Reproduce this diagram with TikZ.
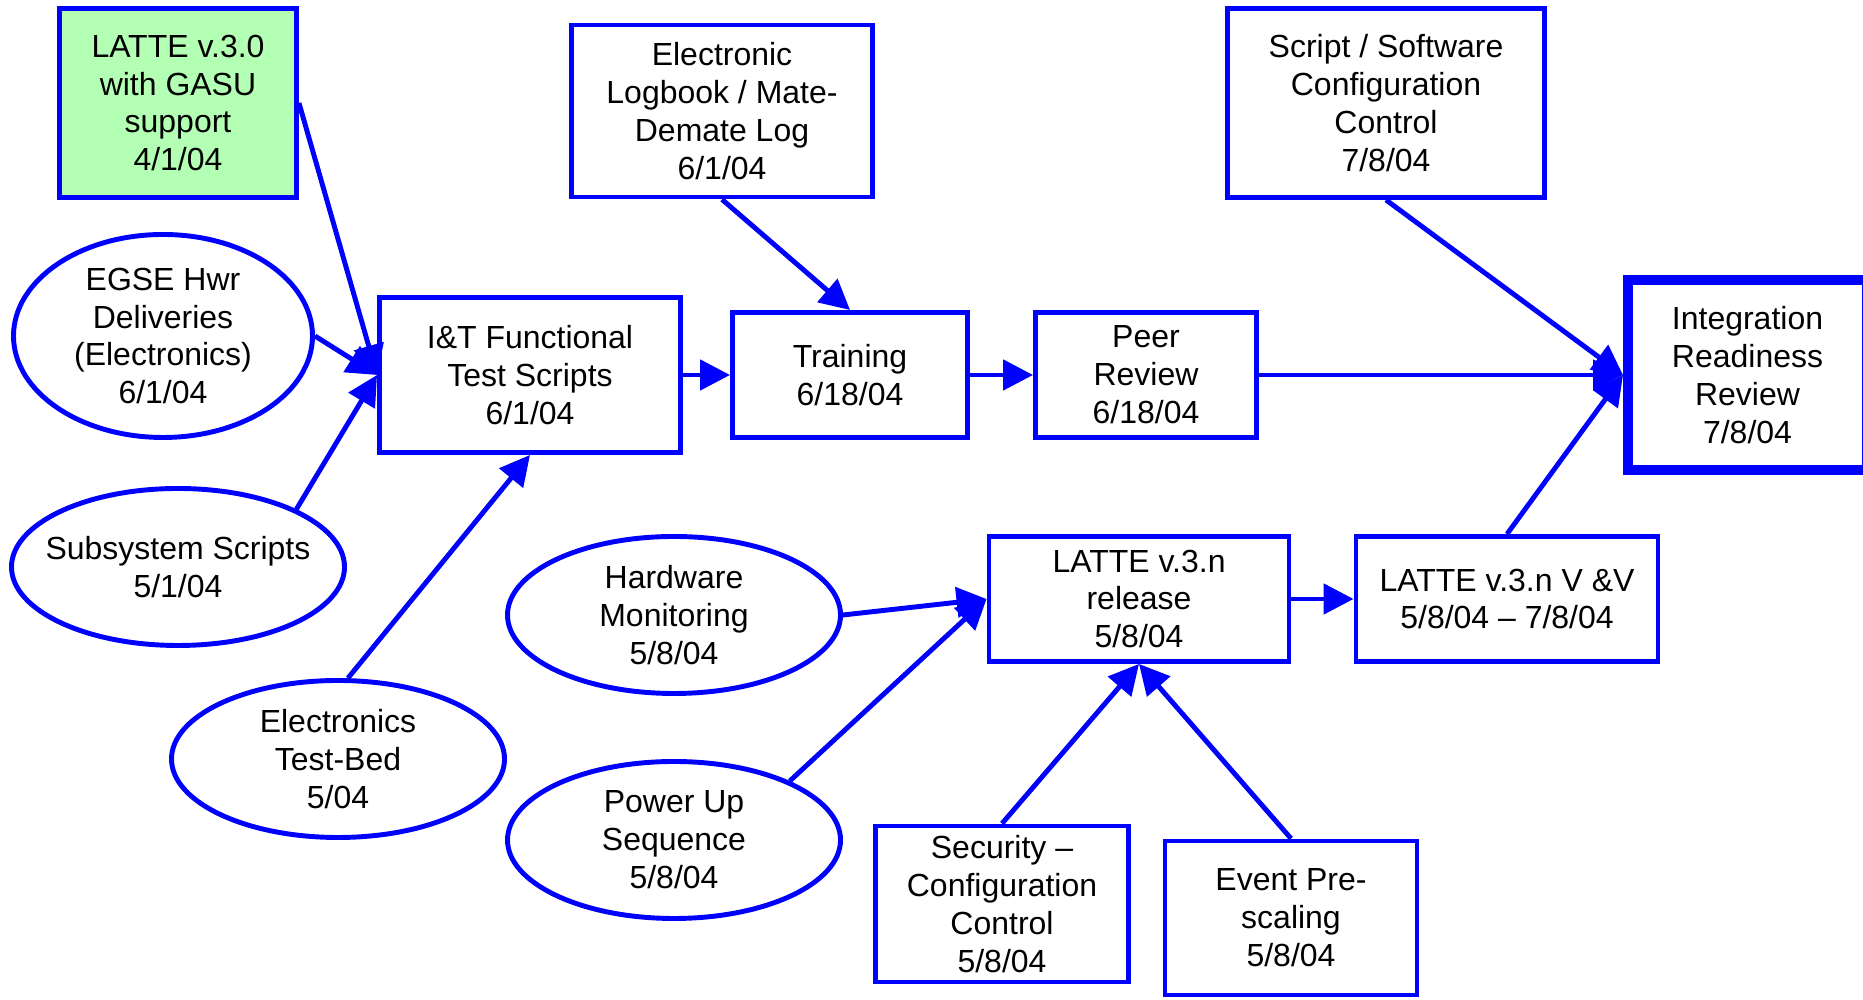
\documentclass[tikz,border=0pt]{standalone}
\usepackage{fontspec}
\setmainfont{Liberation Sans}
\usepackage{xcolor}
\usepackage{tikz}
\usetikzlibrary{shapes}
\usetikzlibrary{shapes.geometric}
\usetikzlibrary{arrows.meta}
\definecolor{gasugreen}{RGB}{179,255,179}
\tikzset{
    taskbox/.style = {rectangle, draw=blue, line width=1.4pt, align=center, inner sep=0pt},
    inputoval/.style = {ellipse, draw=blue, line width=1.4pt, align=center, inner xsep=-2mm, inner ysep=-1pt, minimum width=3.33cm, minimum height=1.57cm},
    arr/.style = {-{Triangle[length=3mm,width=3mm]}, draw=blue, line width=1.4pt},
}

\begin{document}
\begin{tikzpicture}[
	font=\fontsize{9.1}{10.8}\selectfont
]
\useasboundingbox (0,0) rectangle (18.63,10);
\node[taskbox, fill=gasugreen, minimum width=2.37cm, minimum height=1.89cm] at (1.78,8.97) (latte) {LATTE v.3.0\\with GASU\\support\\4/1/04};
\node[inputoval, minimum width=2.99cm, minimum height=2.03cm] at (1.63,6.64) (egse) {EGSE Hwr\\Deliveries\\(Electronics)\\6/1/04};
\node[inputoval] at (1.78,4.33) (subsys) {Subsystem Scripts\\5/1/04};
\node[inputoval] at (3.38,2.41) (testbed) {Electronics\\Test-Bed\\5/04};
\node[taskbox, minimum width=3.01cm, minimum height=1.55cm] at (5.30,6.25) (func) {I\&T Functional\\Test Scripts\\6/1/04};
\node[taskbox, minimum width=3.01cm, minimum height=1.72cm] at (7.22,8.89) (logbook) {Electronic\\Logbook / Mate-\\Demate Log\\6/1/04};
\node[taskbox, minimum width=2.35cm, minimum height=1.25cm] at (8.50,6.25) (training) {Training\\6/18/04};
\node[taskbox, minimum width=2.21cm, minimum height=1.25cm] at (11.46,6.25) (peer) {Peer\\Review\\6/18/04};
\node[taskbox, minimum width=3.17cm, minimum height=1.89cm] at (13.86,8.97) (script) {Script / Software\\Configuration\\Control\\7/8/04};
\node[taskbox, line width=2.85pt, minimum width=2.39cm, minimum height=1.90cm] at (17.475,6.25) (irr) {Integration\\Readiness\\Review\\7/8/04};
\node[inputoval] at (6.74,3.85) (hwmon) {Hardware\\Monitoring\\5/8/04};
\node[inputoval] at (6.74,1.60) (powerup) {Power Up\\Sequence\\5/8/04};
\node[taskbox, minimum width=3.00cm, minimum height=1.25cm] at (11.39,4.01) (release) {LATTE v.3.n\\release\\5/8/04};
\node[taskbox, minimum width=3.02cm, minimum height=1.25cm] at (15.07,4.01) (vandv) {LATTE v.3.n V \&V\\5/8/04 – 7/8/04};
\node[taskbox, minimum width=2.53cm, minimum height=1.56cm] at (10.02,0.96) (security) {Security –\\Configuration\\Control\\5/8/04};
\node[taskbox, minimum width=2.52cm, minimum height=1.54cm] at (12.91,0.82) (prescale) {Event Pre-\\scaling\\5/8/04};
%
\draw[arr] (latte.east) -- (func.west);
\draw[arr] (egse.east) -- (func.west);
\draw[arr] (subsys.26) -- (func.west);
\draw[arr] (testbed.83) -- (func.south);
%
\draw[arr] (func.east) -- (training.west);
\draw[arr] (logbook.south) -- (training.north);
\draw[arr] (training.east) -- (peer.west);
\draw[arr] (peer.east) -- (irr.west);
\draw[arr] (script.south) -- (irr.west);
\draw[arr] (vandv.north) -- (irr.west);
%
\draw[arr] (hwmon.east) -- (release.west);
\draw[arr] (powerup.27) -- (release.west);
\draw[arr] (security.north) -- (release.south);
\draw[arr] (prescale.north) -- (release.south);
\draw[arr] (release.east) -- (vandv.west);
\end{tikzpicture}
\end{document}
